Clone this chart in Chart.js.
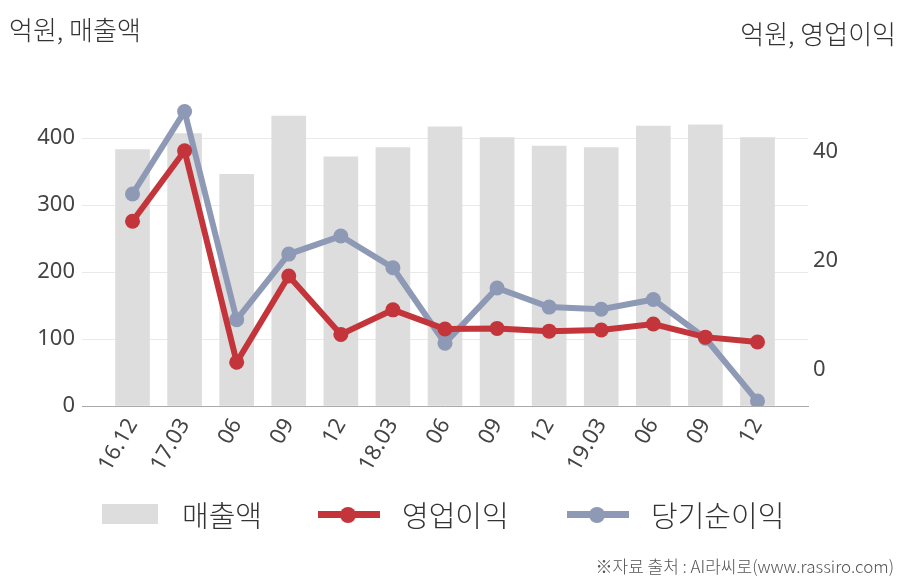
<!DOCTYPE html>
<html>
<head>
<meta charset="utf-8">
<script src="https://cdn.jsdelivr.net/npm/chart.js@4/dist/chart.umd.min.js"></script>
<style>
  body { margin: 0; background: #fff; }
  #wrap { position: relative; width: 908px; height: 580px; overflow: hidden; }
  #myChart { position: absolute; left: 0; top: 0; }
  .txt { position: absolute; font-family: "Noto Sans CJK KR", sans-serif; color: #333; white-space: nowrap; font-weight: 300; }
  .legend-item { position: absolute; top: 495px; height: 40px; }
  .lg-line { position: absolute; top: 16px; height: 7px; }
  .lg-dot { position: absolute; top: 12px; width: 16px; height: 16px; border-radius: 50%; }
</style>
</head>
<body>
<div id="wrap">
  <canvas id="myChart" width="908" height="580"></canvas>
  <div class="txt" style="left:9px; top:10px; font-size:26px;">억원, 매출액</div>
  <div class="txt" style="right:12px; top:14px; font-size:26px;">억원, 영업이익</div>

  <div class="legend-item" style="left:102px;">
    <div style="position:absolute; left:0; top:9px; width:56px; height:20px; background:#dddddd;"></div>
  </div>
  <div class="txt" style="left:182px; top:493px; font-size:29px;">매출액</div>

  <div class="legend-item" style="left:318px;">
    <div class="lg-line" style="left:0; width:62px; background:#c3353a;"></div>
    <div class="lg-dot" style="left:22px; background:#c3353a;"></div>
  </div>
  <div class="txt" style="left:402px; top:493px; font-size:29px;">영업이익</div>

  <div class="legend-item" style="left:567px;">
    <div class="lg-line" style="left:0; width:62px; background:#8e9ab5;"></div>
    <div class="lg-dot" style="left:22px; background:#8e9ab5;"></div>
  </div>
  <div class="txt" style="left:651px; top:493px; font-size:29px;">당기순이익</div>

  <div class="txt" style="right:14px; top:553px; font-size:17px; color:#555;">※자료 출처 : AI라씨로(www.rassiro.com)</div>
</div>
<script>
const quarters = ['16.12', '17.03', '06', '09', '12', '18.03', '06', '09', '12', '19.03', '06', '09', '12'];
const sales = [383, 407, 346, 433, 372, 386, 417, 401, 388, 386, 418, 420, 401];
const operatingProfit = [27.2, 40.1, 1.4, 17.2, 6.5, 11.0, 7.5, 7.6, 7.1, 7.3, 8.4, 6.0, 5.1];
const netProfit = [32.2, 47.3, 9.2, 21.2, 24.5, 18.7, 4.9, 15.0, 11.5, 11.1, 12.9, 5.8, -5.7];
const leftTicks = [0, 100, 200, 300, 400];
const rightTicks = [0, 20, 40];

const ctx = document.getElementById('myChart').getContext('2d');

let toPoints = function (arr) {
    return arr.map((v, i) => ({ x: i, y: v }));
}

const tickFont = { family: 'Noto Sans', size: 22 };

const config = {
    data: {
        datasets: [
            {
                type: 'line',
                label: '영업이익',
                data: toPoints(operatingProfit),
                yAxisID: 'y1',
                borderColor: '#c3353a',
                backgroundColor: '#c3353a',
                borderWidth: 6,
                pointRadius: 7.5,
                pointBorderWidth: 0,
                order: 0,
            },
            {
                type: 'line',
                label: '당기순이익',
                data: toPoints(netProfit),
                yAxisID: 'y1',
                borderColor: '#8e9ab5',
                backgroundColor: '#8e9ab5',
                borderWidth: 6,
                pointRadius: 7.5,
                pointBorderWidth: 0,
                order: 1,
            },
            {
                type: 'bar',
                label: '매출액',
                data: toPoints(sales),
                yAxisID: 'y',
                backgroundColor: '#dddddd',
                barThickness: 34,
                order: 2,
            },
        ]
    },
    options: {
        responsive: false,
        animation: false,
        devicePixelRatio: 1,
        layout: { padding: { top: 100, left: 0, right: 0, bottom: 0 } },
        plugins: {
            legend: { display: false },
            tooltip: { enabled: false },
        },
        scales: {
            x: {
                type: 'linear',
                offset: false,
                min: -0.97,
                max: 12.97,
                afterBuildTicks: function (axis) {
                    axis.ticks = quarters.map((q, i) => ({ value: i }));
                },
                afterFit: function (axis) {
                    axis.height = 174;
                    axis.paddingLeft = 0;
                    axis.paddingRight = 0;
                },
                grid: { display: false, drawTicks: false, offset: false },
                border: { display: true, color: '#aaaaaa', width: 1 },
                ticks: {
                    callback: function (value) { return quarters[value]; },
                    font: tickFont,
                    color: '#444',
                    minRotation: 60,
                    maxRotation: 60,
                    padding: 8,
                    autoSkip: false,
                },
            },
            y: {
                position: 'left',
                min: 0,
                max: 457,
                afterBuildTicks: function (axis) {
                    axis.ticks = leftTicks.map(v => ({ value: v }));
                },
                afterFit: function (axis) {
                    axis.width = 82;
                    axis.paddingTop = 0;
                    axis.paddingBottom = 0;
                },
                grid: { color: '#e9e9e9', lineWidth: 1, drawTicks: false },
                border: { display: false },
                ticks: { font: tickFont, color: '#444', padding: 7 },
            },
            y1: {
                position: 'right',
                min: -6.6,
                max: 49.4,
                afterBuildTicks: function (axis) {
                    axis.ticks = rightTicks.map(v => ({ value: v }));
                },
                afterFit: function (axis) {
                    axis.width = 100;
                    axis.paddingTop = 0;
                    axis.paddingBottom = 0;
                },
                grid: { display: false, drawTicks: false },
                border: { display: false },
                ticks: { font: tickFont, color: '#444', padding: 5 },
            },
        },
    },
};

const comboChart = new Chart(ctx, config);
</script>
</body>
</html>
